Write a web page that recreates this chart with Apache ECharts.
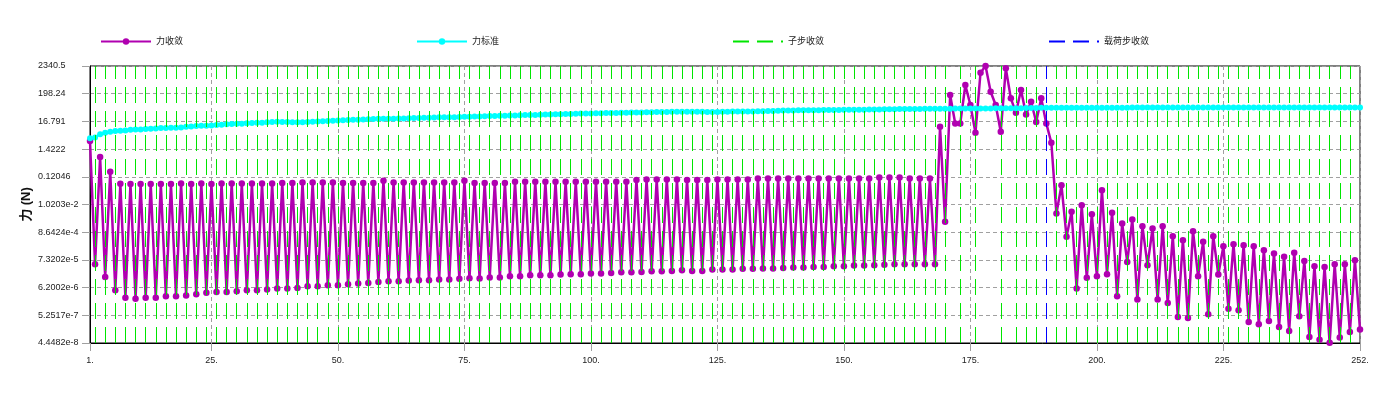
<!DOCTYPE html>
<html>
<head>
<meta charset="utf-8">
<script src="https://cdn.jsdelivr.net/npm/echarts@6/dist/echarts.min.js"></script>
<style>html,body{margin:0;padding:0;background:#fff}#c{width:1384px;height:393px}</style>
</head>
<body>
<div id="c"></div>
<script>
// ---- data ----
const xTickValues = [1, 25, 50, 75, 100, 125, 150, 175, 200, 225, 252];
const xTickLabels = ['1.', '25.', '50.', '75.', '100.', '125.', '150.', '175.', '200.', '225.', '252.'];
const yTickValues = [4.4482e-8, 5.2517e-7, 6.2002e-6, 7.3202e-5, 8.6424e-4, 1.0203e-2, 0.12046, 1.4222, 16.791, 198.24, 2340.5];
const yTickLabels = ['4.4482e-8', '5.2517e-7', '6.2002e-6', '7.3202e-5', '8.6424e-4', '1.0203e-2', '0.12046', '1.4222', '16.791', '198.24', '2340.5'];

// 力收敛 (force convergence), iterations 1..252
const forceConvergence = [
  2.9, 5.0e-5, 0.71, 1.6e-5, 0.19, 4.9e-6, 0.065, 2.5e-6, 0.063, 2.3e-6,
  0.063, 2.5e-6, 0.063, 2.5e-6, 0.063, 2.9e-6, 0.063, 2.9e-6, 0.066, 3.1e-6,
  0.063, 3.4e-6, 0.066, 3.9e-6, 0.063, 4.2e-6, 0.066, 4.2e-6, 0.066, 4.5e-6,
  0.066, 4.9e-6, 0.066, 4.9e-6, 0.066, 5.2e-6, 0.066, 5.7e-6, 0.070, 5.7e-6,
  0.070, 6.0e-6, 0.073, 7.0e-6, 0.073, 7.0e-6, 0.073, 7.7e-6, 0.073, 7.7e-6,
  0.070, 8.4e-6, 0.070, 8.9e-6, 0.070, 9.4e-6, 0.070, 1.03e-5, 0.084, 1.09e-5,
  0.073, 1.09e-5, 0.073, 1.16e-5, 0.073, 1.2e-5, 0.073, 1.2e-5, 0.073, 1.27e-5,
  0.073, 1.27e-5, 0.073, 1.35e-5, 0.084, 1.42e-5, 0.070, 1.39e-5, 0.070, 1.52e-5,
  0.070, 1.52e-5, 0.070, 1.71e-5, 0.077, 1.71e-5, 0.077, 1.87e-5, 0.077, 1.87e-5,
  0.077, 1.87e-5, 0.077, 1.98e-5, 0.077, 2.04e-5, 0.077, 2.04e-5, 0.077, 2.17e-5,
  0.077, 2.17e-5, 0.077, 2.3e-5, 0.077, 2.44e-5, 0.077, 2.44e-5, 0.090, 2.51e-5,
  0.095, 2.67e-5, 0.095, 2.67e-5, 0.095, 2.75e-5, 0.095, 2.92e-5, 0.090, 2.75e-5,
  0.090, 2.75e-5, 0.090, 3.1e-5, 0.095, 3.1e-5, 0.095, 3.1e-5, 0.095, 3.29e-5,
  0.095, 3.29e-5, 0.104, 3.39e-5, 0.104, 3.39e-5, 0.104, 3.59e-5, 0.104, 3.7e-5,
  0.104, 3.7e-5, 0.104, 3.93e-5, 0.104, 3.93e-5, 0.104, 4.17e-5, 0.104, 4.17e-5,
  0.104, 4.43e-5, 0.104, 4.43e-5, 0.104, 4.56e-5, 0.114, 4.7e-5, 0.114, 4.98e-5,
  0.114, 4.98e-5, 0.104, 4.98e-5, 0.104, 4.98e-5, 0.104, 4.98e-5, 10.4, 2.2e-3,
  176, 14.0, 14.0, 430, 72, 6.1, 1290, 2340, 237, 72,
  6.7, 1900, 131, 36, 275, 31, 97, 16, 131, 14,
  2.5, 4.6e-3, 0.057, 5.7e-4, 5.3e-3, 5.7e-6, 9.6e-3, 1.5e-5, 4.3e-3, 1.7e-5,
  0.0366, 2.04e-5, 4.85e-3, 2.87e-6, 1.87e-3, 6.1e-5, 2.68e-3, 2.13e-6, 1.48e-3, 4.56e-5,
  1.2e-3, 2.13e-6, 1.48e-3, 1.58e-6, 6.06e-4, 4.54e-7, 4.24e-4, 4.15e-7, 9.46e-4, 1.71e-5,
  3.65e-4, 5.75e-7, 6.06e-4, 1.98e-5, 2.48e-4, 9.5e-7, 2.97e-4, 8.2e-7, 2.71e-4, 2.9e-7,
  2.48e-4, 2.36e-7, 1.74e-4, 3.17e-7, 1.29e-4, 1.86e-7, 9.6e-5, 1.3e-7, 1.37e-4, 4.8e-7,
  6.7e-5, 7.6e-8, 4.17e-5, 6.0e-8, 3.93e-5, 4.5e-8, 4.98e-5, 7.2e-8, 4.98e-5, 1.19e-7,
  7.1e-5, 1.47e-7
];

// 力标准 (force criterion), iterations 1..252
const forceCriterion = [
  3.7, 4.0, 5.4, 6.1, 6.7, 7.1, 7.3, 7.5, 8.0, 8.2,
  8.2, 8.5, 8.7, 9.0, 9.3, 9.3, 9.5, 9.6, 9.8, 10.4,
  10.7, 11.1, 11.4, 11.4, 11.7, 12.1, 12.5, 12.9, 13.2, 13.6,
  13.6, 14.1, 14.5, 14.9, 14.9, 15.4, 15.8, 16.3, 15.9, 15.8,
  15.6, 15.4, 15.5, 15.8, 16.3, 16.6, 17.0, 17.5, 17.9, 18.3,
  18.6, 18.9, 19.3, 19.6, 20.0, 20.4, 20.8, 21.1, 21.3, 21.3,
  21.4, 21.6, 21.8, 22.2, 22.6, 22.7, 23.0, 23.3, 23.7, 24.1,
  24.2, 24.1, 24.5, 24.9, 25.3, 25.5, 25.8, 26.2, 26.6, 27.0,
  27.2, 27.5, 27.9, 28.3, 28.7, 29.0, 29.4, 29.8, 30.0, 30.4,
  30.8, 31.2, 31.6, 32.0, 32.4, 32.8, 33.2, 33.6, 34.0, 34.3,
  34.6, 35.0, 35.4, 35.6, 35.8, 36.2, 36.6, 37.0, 37.3, 37.5,
  37.8, 38.2, 38.5, 38.8, 39.1, 39.4, 39.6, 39.8, 39.8, 39.8,
  39.6, 39.4, 39.2, 39.0, 39.0, 39.4, 39.8, 40.2, 40.4, 40.6,
  40.8, 41.0, 41.4, 41.8, 42.2, 42.8, 43.4, 44.0, 44.4, 44.8,
  45.0, 45.2, 45.4, 45.6, 45.8, 46.0, 46.2, 46.4, 46.6, 47.0,
  47.4, 47.6, 47.6, 47.8, 48.0, 48.4, 48.8, 49.2, 49.6, 50.0,
  50.3, 50.5, 50.7, 51.0, 51.2, 51.4, 51.6, 51.8, 52.0, 52.2,
  52.4, 52.6, 52.8, 53.0, 53.2, 53.3, 53.4, 53.5, 53.6, 53.7,
  53.9, 54.1, 54.3, 54.5, 54.8, 55.1, 55.4, 55.8, 56.2, 56.5,
  56.7, 56.8, 56.9, 56.9, 57.0, 57.0, 57.0, 57.0, 57.0, 57.0,
  57.1, 57.1, 57.2, 57.2, 57.3, 57.3, 57.4, 57.4, 57.5, 57.5,
  57.6, 57.6, 57.7, 57.7, 57.8, 57.8, 57.8, 57.9, 57.9, 57.9,
  58.0, 58.0, 58.0, 58.0, 58.1, 58.1, 58.1, 58.1, 58.2, 58.2,
  58.2, 58.2, 58.3, 58.3, 58.3, 58.3, 58.3, 58.4, 58.4, 58.4,
  58.4, 58.4, 58.5, 58.5, 58.5, 58.5, 58.5, 58.5, 58.6, 58.6,
  58.6, 58.6
];

// 子步收敛 (substep converged) iterations
const substepConverged = [
  2, 4, 6, 8, 10, 12, 14, 16, 18, 20, 22, 24, 26, 28, 30, 32, 34, 36, 38, 40,
  42, 44, 46, 48, 50, 52, 54, 56, 58, 60, 62, 64, 66, 68, 70, 72, 74, 76, 78, 80,
  82, 84, 86, 88, 90, 92, 94, 96, 98, 100, 102, 104, 106, 108, 110, 112, 114, 116, 118, 120,
  122, 124, 126, 128, 130, 132, 134, 136, 138, 140, 142, 144, 146, 148, 150, 152, 154, 156, 158, 160,
  162, 164, 166, 168, 170, 173, 176, 181, 184, 186, 188,
  192, 194, 196, 198, 200, 202, 204, 206, 208, 210, 212, 214, 216, 218, 220,
  222, 224, 226, 228, 230, 232, 234, 236, 238, 240, 242, 244, 246, 248, 250
];
// 载荷步收敛 (load step converged) iterations
const loadstepConverged = [190];

// ---- chart ----
const toPairs = arr => arr.map((v, i) => [i + 1, v]);
const fmtY = v => {
  let best = 0, bd = Infinity;
  yTickValues.forEach((t, i) => { const d = Math.abs(Math.log(v / t)); if (d < bd) { bd = d; best = i; } });
  return yTickLabels[best];
};
const fmtX = v => {
  const i = xTickValues.indexOf(Math.round(v));
  return i >= 0 ? xTickLabels[i] : '';
};

const FONT = '"Liberation Sans", "Noto Sans CJK SC", sans-serif';
const GRID_GRAY = '#a0a0a0';

function legendAt(left, name, dashed) {
  const l = {
    left: left, top: 37, padding: 0, itemWidth: 50, itemHeight: 8, itemGap: 0,
    data: [name], selectedMode: false,
    textStyle: { fontSize: 9, color: '#222', fontFamily: FONT }
  };
  if (dashed) l.itemStyle = { opacity: 0 };
  return l;
}

const chart = echarts.init(document.getElementById('c'), null, { renderer: 'canvas' });
chart.setOption({
  animation: false,
  backgroundColor: '#fff',
  textStyle: { fontFamily: FONT },
  legend: [
    legendAt(100, '力收敛', false),
    legendAt(416, '力标准', false),
    legendAt(732, '子步收敛', true),
    legendAt(1048, '载荷步收敛', true)
  ],
  grid: { left: 90, right: 24, top: 66, bottom: 50, show: true, borderColor: '#000', borderWidth: 1, backgroundColor: '#fff' },
  xAxis: {
    type: 'value', min: 1, max: 252,
    axisLine: { show: true, lineStyle: { color: '#000', width: 1 } },
    axisTick: { show: true, length: 8, customValues: xTickValues, lineStyle: { color: GRID_GRAY } },
    axisLabel: { customValues: xTickValues, formatter: fmtX, fontSize: 9, color: '#222', margin: 13, fontFamily: FONT },
    splitLine: { show: true, lineStyle: { color: GRID_GRAY, type: [4, 3], width: 1 } }
  },
  yAxis: {
    type: 'log', logBase: 10, min: 4.4481e-8, max: 2340.6,
    name: '力 (N)', nameLocation: 'middle', nameRotate: 90, nameGap: 57, nameMoveOverlap: false,
    nameTextStyle: { fontSize: 13, fontWeight: 'bold', color: '#111', fontFamily: FONT },
    axisLine: { show: true, lineStyle: { color: '#000', width: 1 } },
    axisTick: { show: true, length: 8, customValues: yTickValues, lineStyle: { color: GRID_GRAY } },
    axisLabel: { customValues: yTickValues, formatter: fmtY, fontSize: 9, color: '#222', align: 'left', margin: 52, fontFamily: FONT },
    splitLine: { show: true, lineStyle: { color: GRID_GRAY, type: [4, 3], width: 1 } }
  },
  series: [
    {
      name: '力收敛', type: 'line', z: 2,
      data: toPairs(forceConvergence),
      color: '#b000b0',
      lineStyle: { width: 2.5, color: '#b000b0' },
      symbol: 'circle', symbolSize: 6.5, showSymbol: true,
      itemStyle: { color: '#b000b0' }
    },
    {
      name: '子步收敛', type: 'line', z: 3, data: [],
      color: '#00e600', symbol: 'none',
      lineStyle: { width: 1, color: '#00e600', type: [16, 8] },
      markLine: {
        silent: true, symbol: ['none', 'none'], animation: false,
        label: { show: false },
        lineStyle: { color: '#00e600', width: 1, type: [16, 8] },
        emphasis: { disabled: true },
        data: substepConverged.map(v => ({ xAxis: v }))
      }
    },
    {
      name: '载荷步收敛', type: 'line', z: 3, data: [],
      color: '#0000ff', symbol: 'none',
      lineStyle: { width: 1, color: '#0000ff', type: [16, 8] },
      markLine: {
        silent: true, symbol: ['none', 'none'], animation: false,
        label: { show: false },
        lineStyle: { color: '#0000ff', width: 1, type: [16, 8] },
        emphasis: { disabled: true },
        data: loadstepConverged.map(v => ({ xAxis: v }))
      }
    },
    {
      name: '力标准', type: 'line', z: 4,
      data: toPairs(forceCriterion),
      color: '#00ffff',
      lineStyle: { width: 2, color: '#00ffff' },
      symbol: 'circle', symbolSize: 6, showSymbol: true,
      itemStyle: { color: '#00ffff' }
    }
  ]
});
</script>
</body>
</html>
